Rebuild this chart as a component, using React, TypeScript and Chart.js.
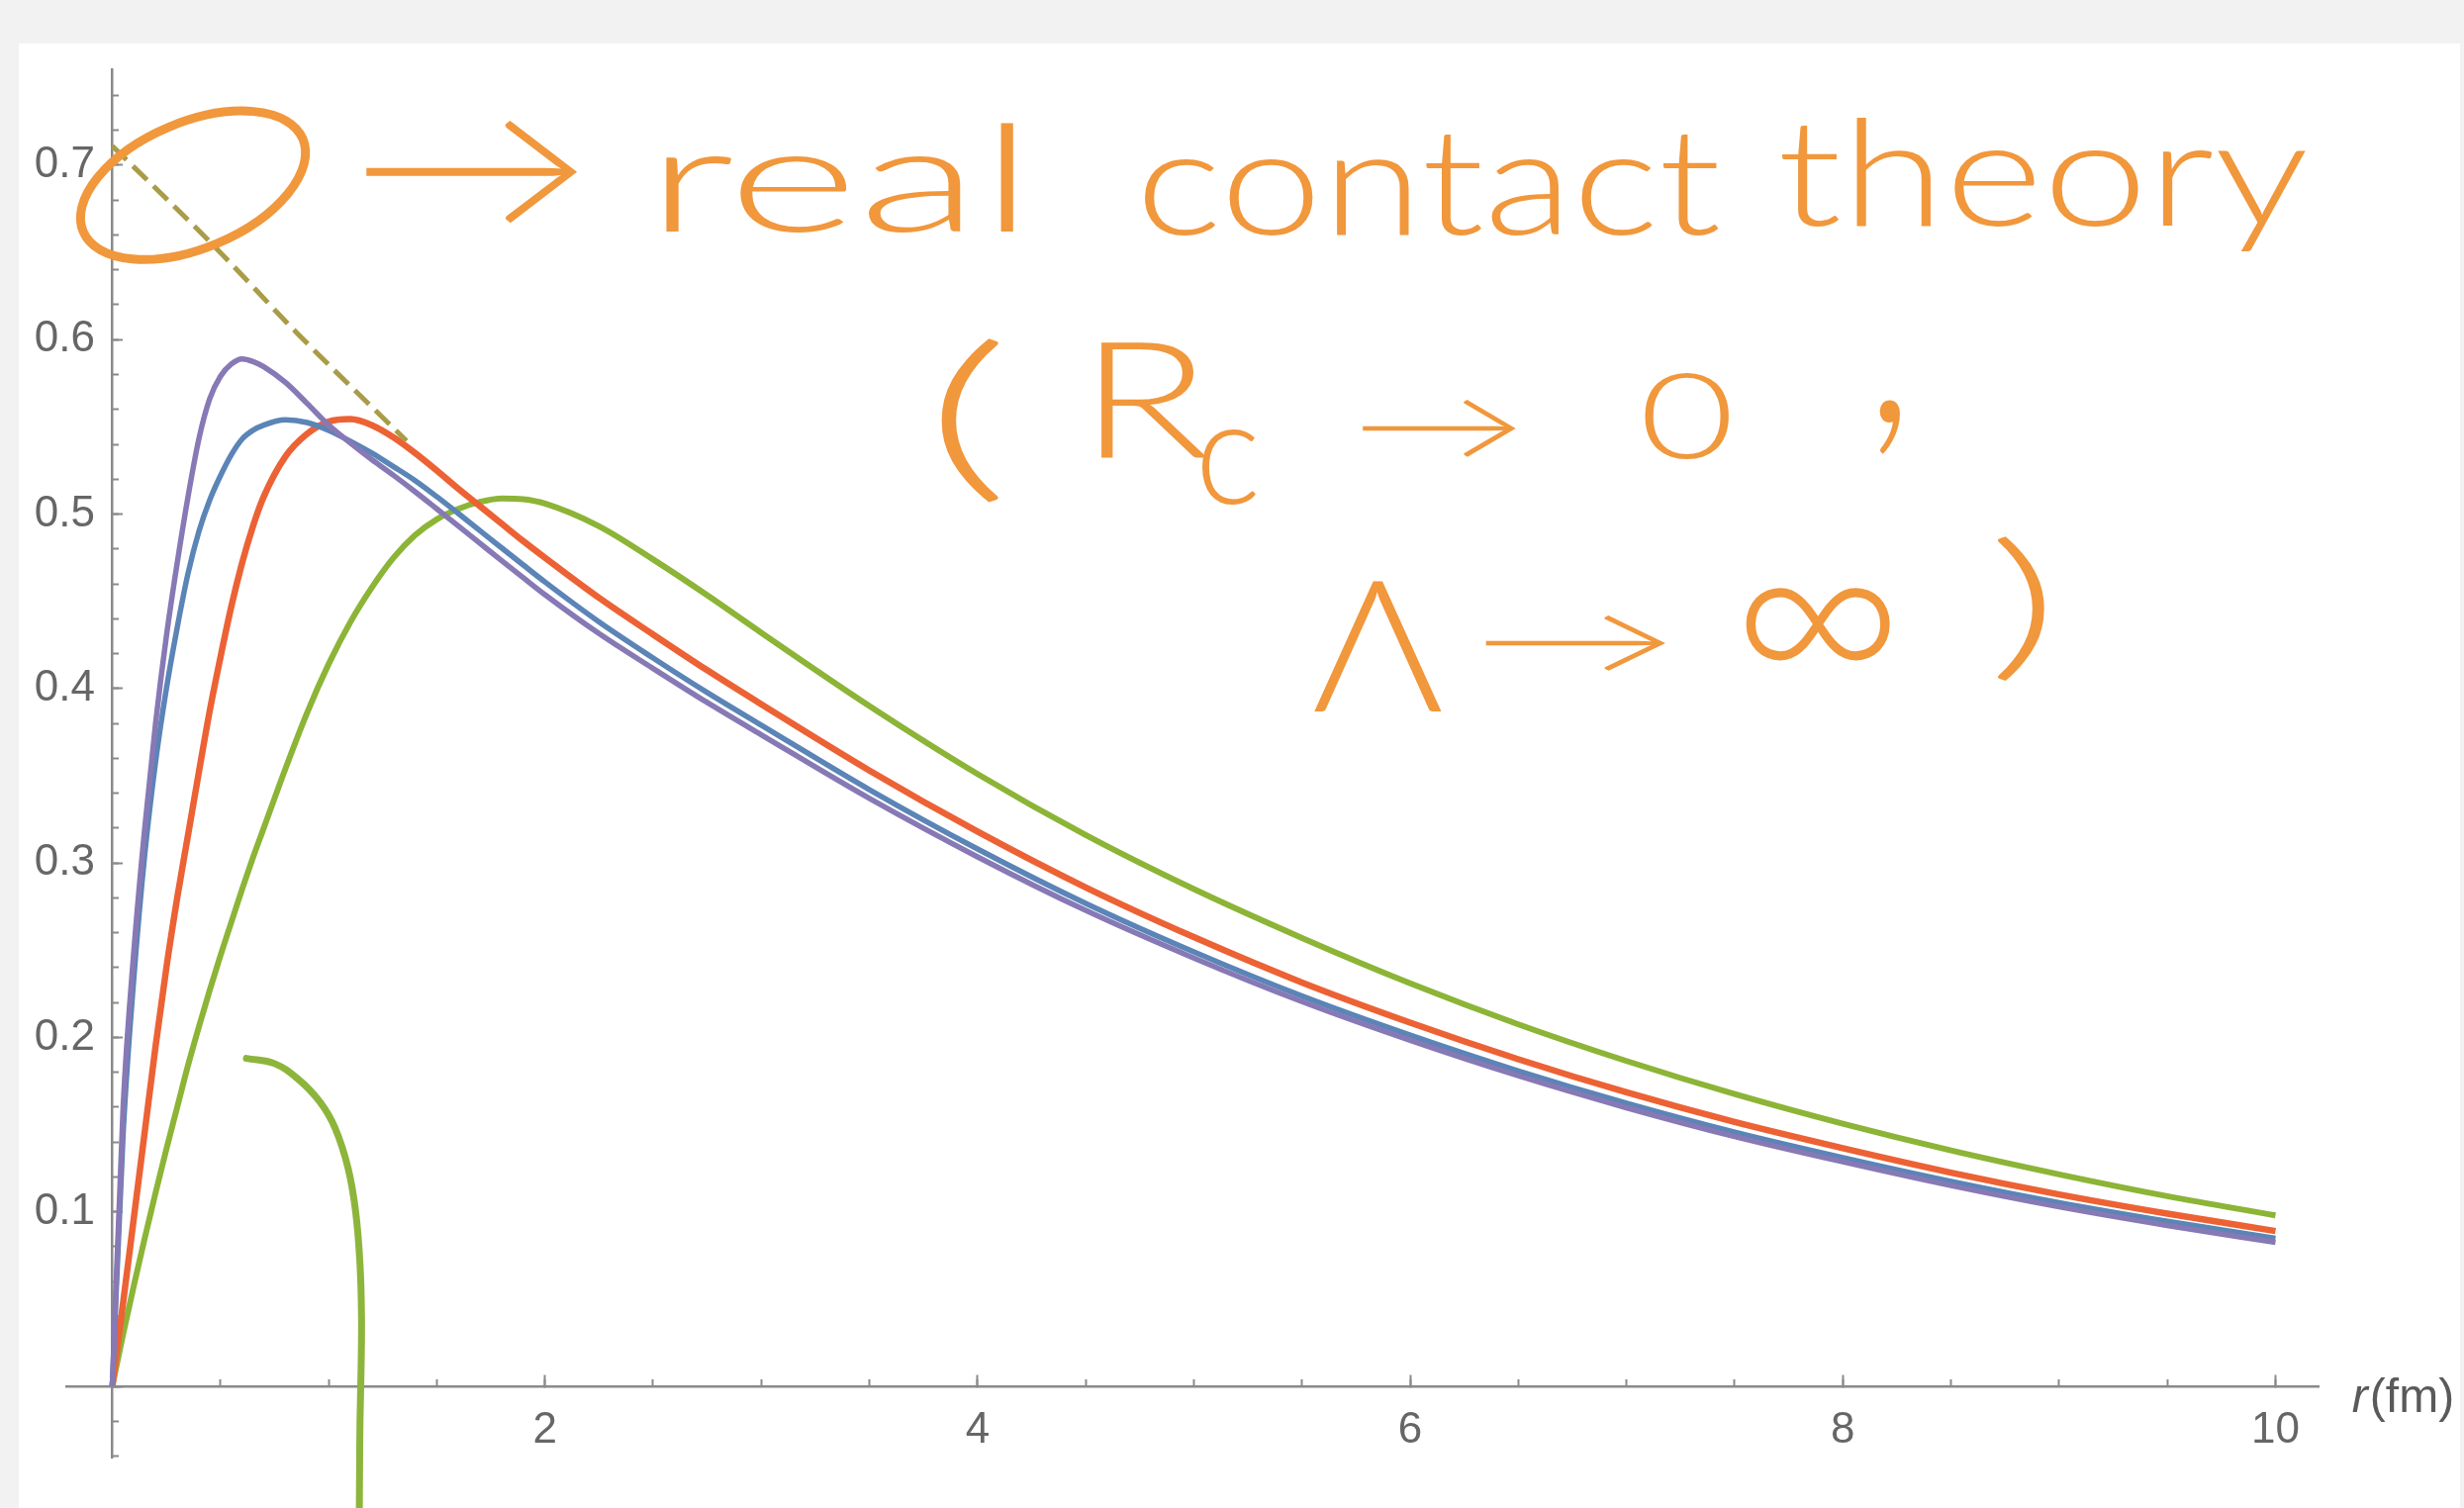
import React, { useEffect, useRef } from "react";
import { Chart, registerables } from "chart.js";

Chart.register(...registerables);

// ---------- data ----------
// r in fm
const rValues = [
  0, 0.05, 0.1, 0.15, 0.2, 0.25, 0.3, 0.35, 0.4, 0.45,
  0.5, 0.55, 0.6, 0.65, 0.7, 0.8, 0.9, 1.0,
  1.1, 1.2, 1.3, 1.4, 1.5, 1.6, 1.7, 1.8, 1.9, 2.0,
  2.25, 2.5, 2.75, 3.0,
  3.5, 4.0, 4.5, 5.0, 5.5, 6.0, 6.5, 7.0, 7.5, 8.0, 8.5, 9.0, 9.5, 10.0,
];

const purpleU = [
  0, 0.16, 0.25, 0.32, 0.38, 0.43, 0.472, 0.51, 0.543, 0.566,
  0.579, 0.586, 0.589, 0.5875, 0.5845, 0.5755, 0.5635, 0.551,
  0.5408, 0.5312, 0.5222, 0.5128, 0.503, 0.4931, 0.4832, 0.4733, 0.4635, 0.4538,
  0.4315, 0.4115, 0.392, 0.3735,
  0.337, 0.3035, 0.2728, 0.2455, 0.2205, 0.1983, 0.178, 0.1597, 0.1432, 0.1287, 0.1151, 0.1029, 0.0922, 0.0825,
];

const blueU = [
  0, 0.145, 0.235, 0.305, 0.358, 0.4, 0.435, 0.466, 0.49, 0.508,
  0.522, 0.534, 0.543, 0.548, 0.551, 0.554, 0.5525, 0.548,
  0.5418, 0.535, 0.5272, 0.5192, 0.51, 0.5003, 0.4905, 0.4806, 0.4708, 0.4611,
  0.4382, 0.4175, 0.3977, 0.379,
  0.342, 0.308, 0.2768, 0.249, 0.2237, 0.2013, 0.1808, 0.1623, 0.1457, 0.1311, 0.1175, 0.1053, 0.0946, 0.0848,
];

const redU = [
  0, 0.048, 0.097, 0.146, 0.195, 0.24, 0.28, 0.316, 0.352, 0.387,
  0.418, 0.447, 0.472, 0.493, 0.51, 0.533, 0.546, 0.553,
  0.5545, 0.551, 0.544, 0.535, 0.525, 0.5145, 0.5045, 0.4945, 0.4845, 0.475,
  0.452, 0.431, 0.4105, 0.391,
  0.353, 0.318, 0.286, 0.2575, 0.2315, 0.2085, 0.1875, 0.1685, 0.1515, 0.1365, 0.1225, 0.11, 0.099, 0.089,
];

const greenU = [
  0, 0.03, 0.058, 0.085, 0.111, 0.136, 0.16, 0.184, 0.206, 0.227,
  0.247, 0.266, 0.285, 0.303, 0.32, 0.354, 0.386, 0.414,
  0.438, 0.458, 0.475, 0.488, 0.497, 0.503, 0.507, 0.509, 0.5085, 0.506,
  0.493, 0.474, 0.4535, 0.432,
  0.39, 0.351, 0.316, 0.285, 0.257, 0.231, 0.2075, 0.1865, 0.1675, 0.1505, 0.1352, 0.1215, 0.109, 0.098,
];

// dashed asymptotic line
const asymX = [0, 0.46, 0.86, 1.36];
const asymU = [0.711, 0.655, 0.603, 0.542];

// hand-drawn green hook
const hookX = [0.62, 0.75, 0.86, 0.96, 1.03, 1.09, 1.125, 1.145, 1.152, 1.15, 1.145, 1.143, 1.142];
const hookU = [0.188, 0.185, 0.176, 0.163, 0.148, 0.125, 0.1, 0.07, 0.04, 0.01, -0.02, -0.05, -0.07];

// tick labels
const xTickLabels = ["2", "4", "6", "8", "10"];
const yTickLabels = ["0.1", "0.2", "0.3", "0.4", "0.5", "0.6", "0.7"];
const xAxisName = "(fm)";
const xAxisVar = "r";

// handwritten notes (anchored in data coordinates)
const noteWords = [
  { text: "real", x0: 2.56, x1: 4.17, base: 0.662 },
  { text: "contact", x0: 4.77, x1: 7.43, base: 0.6602 },
  { text: "theory", x0: 7.72, x1: 10.14, base: 0.6653 },
];
const noteGlyphs = [
  { text: "→", x0: 1.173, x1: 2.152, top: 0.726, bottom: 0.6665, size: 190 },
  { text: "(", x0: 3.831, x1: 4.1, top: 0.6007, bottom: 0.5065, size: 170 },
  { text: "R", x0: 4.568, x1: 5.062, top: 0.5978, bottom: 0.5315, size: 160 },
  { text: "c", x0: 5.039, x1: 5.286, top: 0.5485, bottom: 0.5054, size: 135 },
  { text: "→", x0: 5.78, x1: 6.493, top: 0.5661, bottom: 0.5328, size: 110 },
  { text: "0", x0: 7.084, x1: 7.477, top: 0.5808, bottom: 0.5315, size: 120 },
  { text: ",", x0: 8.168, x1: 8.268, top: 0.5661, bottom: 0.5343, size: 220 },
  { text: "Λ", x0: 5.556, x1: 6.146, top: 0.4617, bottom: 0.3868, size: 180 },
  { text: "→", x0: 6.343, x1: 7.183, top: 0.4419, bottom: 0.4098, size: 105 },
  { text: "∞", x0: 7.553, x1: 8.218, top: 0.4577, bottom: 0.4158, size: 180 },
  { text: ")", x0: 8.711, x1: 8.932, top: 0.4878, bottom: 0.4039, size: 152 },
];
const noteLoop = { cx: 0.373, cy: 0.6885, rx: 0.551, ry: 0.0361, rot: -22.9 };

// ---------- styling ----------
const X_MIN = -0.21;
const X_MAX = 10.2;
const Y_MIN = -0.041;
const Y_MAX = 0.755;
const AXIS = "#8a8a8a";
const LABEL = "#666666";
const INK = "#F1973C";
const FONT = '"Liberation Sans", Arial, sans-serif';
const HAND = 'Lato, "Open Sans", "DejaVu Sans", sans-serif';

const pts = (xs: number[], ys: number[]) => xs.map((x, i) => ({ x, y: ys[i] }));

const paper = {
  id: "paper",
  beforeDraw(chart: any) {
    const { ctx, width, height } = chart;
    ctx.save();
    ctx.fillStyle = "#f2f2f2";
    ctx.fillRect(0, 0, width, height);
    ctx.fillStyle = "#ffffff";
    ctx.fillRect(19, 44, width - 23, height - 44);
    ctx.restore();
  },
};

const annotate = {
  id: "annotate",
  afterDraw(chart: any) {
    const { ctx } = chart;
    const xs = chart.scales.x;
    const ys = chart.scales.y;
    const X = (v: number) => xs.getPixelForValue(v);
    const Y = (v: number) => ys.getPixelForValue(v);
    const xUnit = X(1) - X(0);
    const yUnit = Y(0) - Y(1);

    ctx.save();
    // axis name r(fm)
    ctx.fillStyle = "#5a5a5a";
    ctx.textAlign = "left";
    ctx.textBaseline = "alphabetic";
    ctx.font = `italic 48px ${FONT}`;
    const ax = X(10.354);
    const ay = Y(-0.0147);
    ctx.fillText(xAxisVar, ax, ay);
    const rw = ctx.measureText(xAxisVar).width;
    ctx.font = `48px ${FONT}`;
    ctx.fillText(xAxisName, ax + rw + 2, ay);

    // orange loop
    ctx.strokeStyle = INK;
    ctx.fillStyle = INK;
    ctx.lineWidth = 9;
    ctx.lineCap = "round";
    ctx.beginPath();
    ctx.ellipse(
      X(noteLoop.cx),
      Y(noteLoop.cy),
      noteLoop.rx * xUnit,
      noteLoop.ry * yUnit,
      (noteLoop.rot * Math.PI) / 180,
      0,
      Math.PI * 2
    );
    ctx.stroke();

    // words, stretched horizontally to the handwritten width
    for (const w of noteWords) {
      ctx.font = `300 150px ${HAND}`;
      const m = ctx.measureText(w.text);
      const inkW = m.actualBoundingBoxLeft + m.actualBoundingBoxRight;
      const X0 = X(w.x0);
      const X1 = X(w.x1);
      ctx.save();
      ctx.translate(X0, Y(w.base));
      ctx.scale((X1 - X0) / inkW, 1);
      ctx.fillText(w.text, m.actualBoundingBoxLeft, 0);
      ctx.restore();
    }
    // single glyphs fitted to their boxes
    for (const g of noteGlyphs) {
      ctx.font = `300 ${g.size}px ${HAND}`;
      const m = ctx.measureText(g.text);
      const inkW = m.actualBoundingBoxLeft + m.actualBoundingBoxRight;
      const inkH = m.actualBoundingBoxAscent + m.actualBoundingBoxDescent;
      const X0 = X(g.x0);
      const X1 = X(g.x1);
      const Y0 = Y(g.top);
      const Y1 = Y(g.bottom);
      ctx.save();
      ctx.translate(X0, Y0);
      ctx.scale((X1 - X0) / inkW, (Y1 - Y0) / inkH);
      ctx.fillText(g.text, m.actualBoundingBoxLeft, m.actualBoundingBoxAscent);
      ctx.restore();
    }
    ctx.restore();
  },
};

const lineStyle = {
  showLine: true,
  pointRadius: 0,
  pointHoverRadius: 0,
  fill: false,
  cubicInterpolationMode: "monotone" as const,
};

export default function App() {
  const ref = useRef<HTMLCanvasElement>(null);

  useEffect(() => {
    if (!ref.current) return;
    const chart = new Chart(ref.current, {
      type: "scatter",
      data: {
        datasets: [
          {
            label: "hook",
            data: pts(hookX, hookU),
            showLine: true,
            pointRadius: 0,
            borderColor: "#8DB53C",
            borderWidth: 7,
            borderCapStyle: "round",
            tension: 0.4,
            clip: false as any,
          },
          {
            label: "asymptotic",
            data: pts(asymX, asymU),
            ...lineStyle,
            borderColor: "#a99c48",
            borderWidth: 5,
            borderDash: [20, 9],
          },
          { label: "purple", data: pts(rValues, purpleU), ...lineStyle, borderColor: "#8779B5", borderWidth: 5.5 },
          { label: "blue", data: pts(rValues, blueU), ...lineStyle, borderColor: "#5B84B7", borderWidth: 5.5 },
          { label: "red", data: pts(rValues, redU), ...lineStyle, borderColor: "#EC6235", borderWidth: 6.5 },
          { label: "green", data: pts(rValues, greenU), ...lineStyle, borderColor: "#8CB436", borderWidth: 6 },
        ] as any,
      },
      options: {
        responsive: false,
        animation: false,
        devicePixelRatio: 1,
        events: [],
        layout: { padding: { left: 67.6, right: 146.8, top: 70, bottom: 50.7 } },
        plugins: {
          legend: { display: false },
          tooltip: { enabled: false },
          title: { display: false },
        },
        scales: {
          x: {
            type: "linear",
            axis: "x",
            position: { y: 0 } as any,
            min: X_MIN,
            max: X_MAX,
            border: { display: true, color: AXIS, width: 2.5 },
            grid: { display: true, drawOnChartArea: false, drawTicks: true, tickLength: -13, tickColor: AXIS, tickWidth: 2 },
            ticks: {
              stepSize: 2,
              includeBounds: false,
              autoSkip: false,
              maxRotation: 0,
              padding: 31,
              color: LABEL,
              font: { size: 44, family: FONT },
              callback: (v: any) => {
                const s = String(Math.round(Number(v) * 100) / 100);
                return xTickLabels.includes(s) ? s : "";
              },
            },
          },
          x2: {
            type: "linear",
            axis: "x",
            position: { y: 0 } as any,
            min: X_MIN,
            max: X_MAX,
            border: { display: false },
            grid: { display: true, drawOnChartArea: false, drawTicks: true, tickLength: -7, tickColor: AXIS, tickWidth: 2 },
            ticks: { display: false, stepSize: 0.5, includeBounds: false, autoSkip: false },
          },
          y: {
            type: "linear",
            axis: "y",
            position: { x: 0 } as any,
            min: Y_MIN,
            max: Y_MAX,
            border: { display: true, color: AXIS, width: 2.5 },
            grid: { display: true, drawOnChartArea: false, drawTicks: true, tickLength: -12, tickColor: AXIS, tickWidth: 2 },
            ticks: {
              stepSize: 0.1,
              includeBounds: false,
              autoSkip: false,
              color: LABEL,
              font: { size: 44, family: FONT },
              callback: (v: any) => {
                const s = Number(v).toFixed(1);
                return yTickLabels.includes(s) ? s + "\u2009\u2009" : "";
              },
            },
          },
          y2: {
            type: "linear",
            axis: "y",
            position: { x: 0 } as any,
            min: Y_MIN,
            max: Y_MAX,
            border: { display: false },
            grid: { display: true, drawOnChartArea: false, drawTicks: true, tickLength: -6, tickColor: AXIS, tickWidth: 2 },
            ticks: { display: false, stepSize: 0.02, includeBounds: false, autoSkip: false },
          },
        } as any,
      },
      plugins: [paper, annotate],
    });
    return () => chart.destroy();
  }, []);

  return (
    <div style={{ position: "fixed", left: 0, top: 0, width: 2490, height: 1524 }}>
      <canvas ref={ref} width={2490} height={1524} style={{ display: "block", width: 2490, height: 1524 }} />
    </div>
  );
}
